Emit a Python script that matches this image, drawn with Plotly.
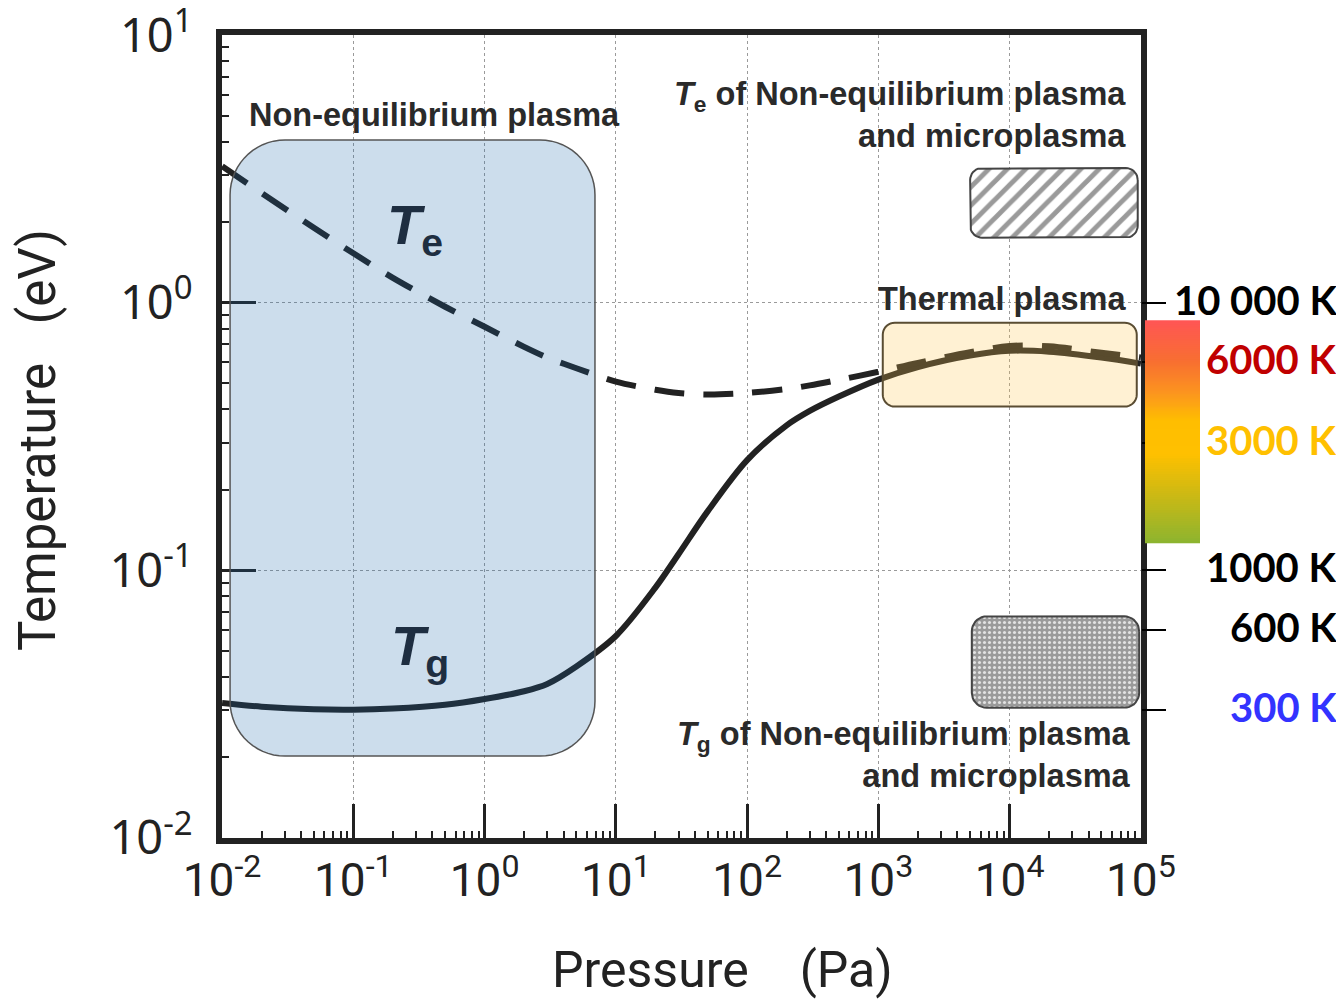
import math
import numpy as np
import plotly.graph_objects as go

# ---------------- data ----------------
pressure_pa = [0.01, 0.02, 0.05, 0.1, 0.2, 0.5, 1, 2, 3, 5, 10, 20, 30, 50, 100, 200,
               300, 500, 1000, 2000, 5000, 1e4, 2e4, 5e4, 1e5]
te_ev = [3.236, 2.570, 1.905, 1.531, 1.239, 0.966, 0.813, 0.684, 0.624, 0.569, 0.507,
         0.473, 0.460, 0.454, 0.460, 0.476, 0.491, 0.515, 0.552, 0.596, 0.653, 0.689,
         0.687, 0.650, 0.624]
tg_ev = [0.0319, 0.0309, 0.0302, 0.0301, 0.0304, 0.0314, 0.0330, 0.0353, 0.0376, 0.0437,
         0.0568, 0.0861, 0.1148, 0.166, 0.258, 0.348, 0.394, 0.446, 0.516, 0.575, 0.635,
         0.661, 0.656, 0.624, 0.592]

# regions: (pressure range Pa, temperature range eV)
noneq_p = [0.0115, 6.93]
noneq_t = [0.0202, 4.06]
thermal_p = [1080, 93000]
thermal_t = [0.409, 0.842]
te_micro_p = [5000, 94600]
te_micro_t = [1.75, 3.19]
tg_micro_p = [5150, 97000]
tg_micro_t = [0.0306, 0.0673]

# Kelvin scale on the right (figure uses 10 000 K ~ 1 eV)
temp_k = [10000, 6000, 3000, 1000, 600, 300]
temp_labels = ["10 000 K", "6000 K", "3000 K", "1000 K", "600 K", "300 K"]
temp_colors = ["#000000", "#C00000", "#FFC000", "#000000", "#000000", "#3333FF"]
K_PER_EV = 10000.0

grad_top_k = 8600
grad_bottom_k = 1260
grad_stops = [0.0, 0.19, 0.33, 0.45, 0.60, 0.78, 1.0]
grad_colors = ["rgb(255,85,85)", "rgb(248,112,48)", "rgb(252,150,30)", "rgb(255,190,0)",
               "rgb(255,192,0)", "rgb(205,185,20)", "rgb(140,180,48)"]

x_ticks = [10.0 ** k for k in range(-2, 6)]
x_ticktext = ["10<sup>%d</sup>" % k if k >= 0 else "10<sup>-%d</sup>" % (-k) for k in range(-2, 6)]
y_ticks = [10.0 ** k for k in range(-2, 2)]
y_ticktext = ["10<sup>%d</sup>" % k if k >= 0 else "10<sup>-%d</sup>" % (-k) for k in range(-2, 2)]

# ---------------- layout geometry ----------------
OFF = 8                      # page body margin of the html page
W, H = 1344 - OFF, 1001 - OFF
ML, MT = 222 - OFF, 35 - OFF
PLOT_W, PLOT_H = 919, 803
MR = 0
MB = H - MT - PLOT_H
PAPER_W = W - ML - MR
PAPER_H = PLOT_H
XR = [-2, 5]
YR = [-2, 1]
EPS = 0.0008
KX = PLOT_W / (XR[1] - XR[0])     # px per decade
KY = PAPER_H / (YR[1] - YR[0])
XDOM = PLOT_W / PAPER_W


def paper_x(px):
    return (px - OFF - ML) / PAPER_W


def paper_y(py):
    return (MT + PLOT_H - (py - OFF)) / PAPER_H


minor_x = [m * 10.0 ** k for k in range(-2, 5) for m in range(2, 10)]
minor_y = [m * 10.0 ** k for k in range(-2, 1) for m in range(2, 10)]


def rounded_poly(prange, trange, r_px, n=10):
    lx0, lx1 = math.log10(prange[0]), math.log10(prange[1])
    ly0, ly1 = math.log10(trange[0]), math.log10(trange[1])
    rx, ry = r_px / KX, r_px / KY
    corners = [(lx1 - rx, ly1 - ry, 0, 90), (lx0 + rx, ly1 - ry, 90, 180),
               (lx0 + rx, ly0 + ry, 180, 270), (lx1 - rx, ly0 + ry, 270, 360)]
    xs, ys = [], []
    for cx, cy, a0, a1 in corners:
        for a in np.linspace(math.radians(a0), math.radians(a1), n):
            xs.append(10 ** (cx + rx * math.cos(a)))
            ys.append(10 ** (cy + ry * math.sin(a)))
    xs.append(xs[0]); ys.append(ys[0])
    return xs, ys


def poly_path(xs, ys):
    pts = ["%s%.6f,%.6f" % ("M" if i == 0 else "L", x, y) for i, (x, y) in enumerate(zip(xs, ys))]
    return " ".join(pts) + " Z"


fig = go.Figure()

# pattern boxes
hx, hy = rounded_poly(te_micro_p, te_micro_t, 12)
fig.add_trace(go.Scatter(x=hx, y=hy, mode="lines", fill="toself", fillcolor="white",
                         line=dict(color="#444444", width=2),
                         fillpattern=dict(shape="/", fgcolor="#9a9a9a", bgcolor="white",
                                          size=13, solidity=0.38, fillmode="replace"),
                         hoverinfo="skip", showlegend=False))
dx, dy = rounded_poly(tg_micro_p, tg_micro_t, 15)
fig.add_trace(go.Scatter(x=dx, y=dy, mode="lines", fill="toself", fillcolor="#9a9a9a",
                         line=dict(color="#444444", width=2),
                         fillpattern=dict(shape=".", fgcolor="#e2e2e2", bgcolor="#9a9a9a",
                                          size=5, solidity=0.3, fillmode="replace"),
                         hoverinfo="skip", showlegend=False))

# curves
fig.add_trace(go.Scatter(x=pressure_pa, y=tg_ev, mode="lines", line_shape="spline",
                         line=dict(color="#222222", width=6, smoothing=0.9), showlegend=False))
fig.add_trace(go.Scatter(x=pressure_pa, y=te_ev, mode="lines", line_shape="spline",
                         line=dict(color="#222222", width=6, dash="30px,19px", smoothing=0.9),
                         showlegend=False))

# invisible trace for the Kelvin axis
fig.add_trace(go.Scatter(x=[pressure_pa[-1]] * len(temp_k), y=[k / K_PER_EV for k in temp_k],
                         mode="markers", marker=dict(opacity=0), yaxis="y3",
                         hoverinfo="skip", showlegend=False))

# gradient bar
N = 120
l_top = math.log10(grad_top_k / K_PER_EV)
l_bot = math.log10(grad_bottom_k / K_PER_EV)
edges = np.linspace(l_bot, l_top, N + 1)
centers = (edges[:-1] + edges[1:]) / 2
zvals = [[(l_top - c) / (l_top - l_bot)] for c in centers]
fig.add_trace(go.Heatmap(x=[0, 1], y=list(10 ** edges), z=zvals, xaxis="x2", yaxis="y2",
                         colorscale=[[s, c] for s, c in zip(grad_stops, grad_colors)],
                         zmin=0, zmax=1, showscale=False, hoverinfo="skip"))

# translucent boxes over the curves
bx, by = rounded_poly(noneq_p, noneq_t, 55, n=16)
tx, ty = rounded_poly(thermal_p, thermal_t, 12)
shapes = [
    dict(type="path", path=poly_path(bx, by), xref="x", yref="y", layer="above",
         fillcolor="rgba(23,100,168,0.22)", line=dict(color="#555555", width=1.5)),
    dict(type="path", path=poly_path(tx, ty), xref="x", yref="y", layer="above",
         fillcolor="rgba(255,200,80,0.25)", line=dict(color="#5a4d33", width=2)),
]

TXT = "#2a2a2a"
BOLD = "Liberation Sans"
FS = 32.5
annotations = [
    dict(x=-0.385, y=0.701, xref="x", yref="y", text="<b>Non-equilibrium plasma</b>",
         showarrow=False, font=dict(family=BOLD, size=FS, color=TXT)),
    dict(x=4.90, y=0.703, xref="x", yref="y", xanchor="right", align="right",
         text="<b><i>T</i><sub>e</sub> of Non-equilibrium plasma<br>and microplasma</b>",
         showarrow=False, font=dict(family=BOLD, size=FS, color=TXT)),
    dict(x=4.90, y=0.015, xref="x", yref="y", xanchor="right",
         text="<b>Thermal plasma</b>", showarrow=False,
         font=dict(family=BOLD, size=FS, color=TXT)),
    dict(x=4.938, y=-1.692, xref="x", yref="y", xanchor="right", align="right",
         text="<b><i>T</i><sub>g</sub> of Non-equilibrium plasma<br>and microplasma</b>",
         showarrow=False, font=dict(family=BOLD, size=FS, color=TXT)),
    dict(x=-0.53, y=0.276, xref="x", yref="y", text="<b><i>T</i><sub>e</sub></b>",
         showarrow=False, font=dict(family=BOLD, size=56, color="#1e2e41")),
    dict(x=-0.492, y=-1.298, xref="x", yref="y", text="<b><i>T</i><sub>g</sub></b>",
         showarrow=False, font=dict(family=BOLD, size=56, color="#1e2e41")),
    dict(x=paper_x(722), y=paper_y(970), xref="paper", yref="paper",
         xanchor="center", yanchor="middle",
         text="Pressure\u2003(Pa)", showarrow=False,
         font=dict(family="Roboto", size=50, color="#222222")),
    dict(x=paper_x(37), y=paper_y(440), xref="paper", yref="paper",
         xanchor="center", yanchor="middle",
         text="Temperature\u2002 (eV)", textangle=-90, showarrow=False,
         font=dict(family="Roboto", size=51, color="#222222")),
]
for k, lab, col in zip(temp_k, temp_labels, temp_colors):
    annotations.append(dict(x=paper_x(1339), y=math.log10(k / K_PER_EV),
                            xref="paper", yref="y", xanchor="right", yanchor="middle",
                            text="<b>" + lab + "</b>", yshift=3,
                            showarrow=False, font=dict(family="Lato", size=40, color=col)))

axis_common = dict(type="log", showline=True, linewidth=6, linecolor="#222222", mirror=True,
                   ticks="inside", ticklen=34, tickwidth=3, tickcolor="#222222",
                   showgrid=True, gridcolor="#9a9a9a", griddash="dot", gridwidth=1,
                   zeroline=False, automargin=False, ticklabeloverflow="allow")

fig.update_layout(
    width=W, height=H, margin=dict(l=ML, r=MR, t=MT, b=MB, autoexpand=False),
    paper_bgcolor="white", plot_bgcolor="white", showlegend=False,
    xaxis=dict(axis_common, range=[XR[0] - EPS, XR[1] + EPS], domain=[0, XDOM],
               tickvals=x_ticks, ticktext=x_ticktext, ticklabelstandoff=-3,
               tickfont=dict(family="Roboto", size=46, color="#222222"),
               minor=dict(ticks="inside", ticklen=7, tickwidth=2, tickcolor="#222222",
                          tickvals=minor_x, showgrid=False)),
    yaxis=dict(axis_common, range=[YR[0] - EPS, YR[1] + EPS], tickvals=y_ticks,
               ticktext=y_ticktext, ticklabelstandoff=14,
               tickfont=dict(family="Noto Sans", size=47, color="#222222"),
               minor=dict(ticks="inside", ticklen=7, tickwidth=2, tickcolor="#222222",
                          tickvals=minor_y, showgrid=False)),
    yaxis3=dict(type="log", range=[YR[0] - EPS, YR[1] + EPS], overlaying="y", anchor="free",
                position=XDOM, side="right", tickvals=[k / K_PER_EV for k in temp_k],
                showticklabels=False, automargin=False,
                ticks="outside", ticklen=24, tickwidth=2, tickcolor="#000000",
                showgrid=False, showline=False, zeroline=False),
    xaxis2=dict(domain=[paper_x(1145), paper_x(1200)], range=[0, 1],
                anchor="y2", visible=False, automargin=False),
    yaxis2=dict(type="log", range=[YR[0] - EPS, YR[1] + EPS], domain=[0, 1], anchor="x2",
                visible=False, automargin=False),
    shapes=shapes, annotations=annotations,
)

fig.write_html("out.html")
